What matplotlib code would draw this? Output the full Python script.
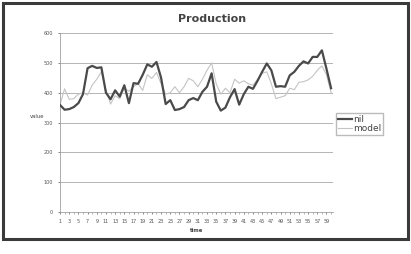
import matplotlib.pyplot as plt
from matplotlib.patches import Rectangle

time = list(range(1, 61))
nil = [359, 343, 345, 352, 365, 395, 482, 490, 483, 485,
       400, 378, 408, 387, 425, 365, 432, 430, 460, 495,
       487, 503, 450, 362, 375, 342, 345, 352, 375, 382,
       375, 403, 420, 465, 370, 340, 350, 385, 412, 360,
       395, 420, 413, 440, 470, 498, 475, 420, 422, 420,
       458, 470, 490, 505, 498, 520, 520, 542, 480, 415]
model = [360, 413, 378, 380, 395, 400, 392, 425, 445, 470,
         410, 362, 390, 380, 415, 405, 420, 430, 408, 460,
         448, 468, 430, 395, 400, 420, 400, 420, 448, 440,
         420, 445, 475, 500, 430, 395, 415, 400, 445, 432,
         440, 430, 425, 445, 465, 470, 430, 380, 385, 390,
         415, 410, 435, 437, 443, 455, 475, 490, 460, 400]
y_ticks = [0, 100, 200, 300, 400, 500, 600]
x_labels = time[::2]

fig = plt.figure(figsize=(4.11, 2.54), dpi=100)
ax = fig.add_axes([0.146, 0.165, 0.664, 0.705])

ax.plot(time, nil, color="#4a4a4a", linewidth=1.6, label="nil", zorder=3)
ax.plot(time, model, color="#c4c4c4", linewidth=0.8, label="model", zorder=2)

ax.set_xlim(1, 60.4)
ax.set_ylim(0, 600)
ax.set_yticks(y_ticks)
ax.set_xticks(x_labels)
ax.set_xticks(time, minor=True)
ax.tick_params(axis="both", labelsize=3.5, colors="#555555", length=1.5, width=0.5)
ax.tick_params(axis="x", which="minor", length=1.5, width=0.5, color="#999999")
ax.tick_params(axis="y", length=1.5)
ax.grid(axis="y", color="#a8a8a8", linewidth=0.6)
for side in ["top", "right"]:
    ax.spines[side].set_visible(False)
for side in ["left", "bottom"]:
    ax.spines[side].set_color("#a0a0a0")
    ax.spines[side].set_linewidth(0.6)

ax.set_xlabel("time", fontsize=3.8, fontweight="bold", color="#444444", labelpad=3)
ax.set_ylabel("value", fontsize=3.8, color="#444444", rotation=0, labelpad=4)
ax.yaxis.set_label_coords(-0.085, 0.52)
fig.text(0.515, 0.925, "Production", ha="center", va="center",
         fontsize=8, fontweight="bold", color="#444444")

fig.legend(loc="upper left", bbox_to_anchor=(0.818, 0.555), fontsize=6.5,
           frameon=True, fancybox=False, edgecolor="#aaaaaa", borderpad=0.2,
           handlelength=1.6, handletextpad=0.1, labelspacing=0.05,
           borderaxespad=0, labelcolor="#444444")

fig.add_artist(Rectangle((0.007, 0.06), 0.986, 0.93, transform=fig.transFigure,
                         fill=False, edgecolor="#3a3a3a", linewidth=2.2))

fig.savefig("out.png", dpi=100)
